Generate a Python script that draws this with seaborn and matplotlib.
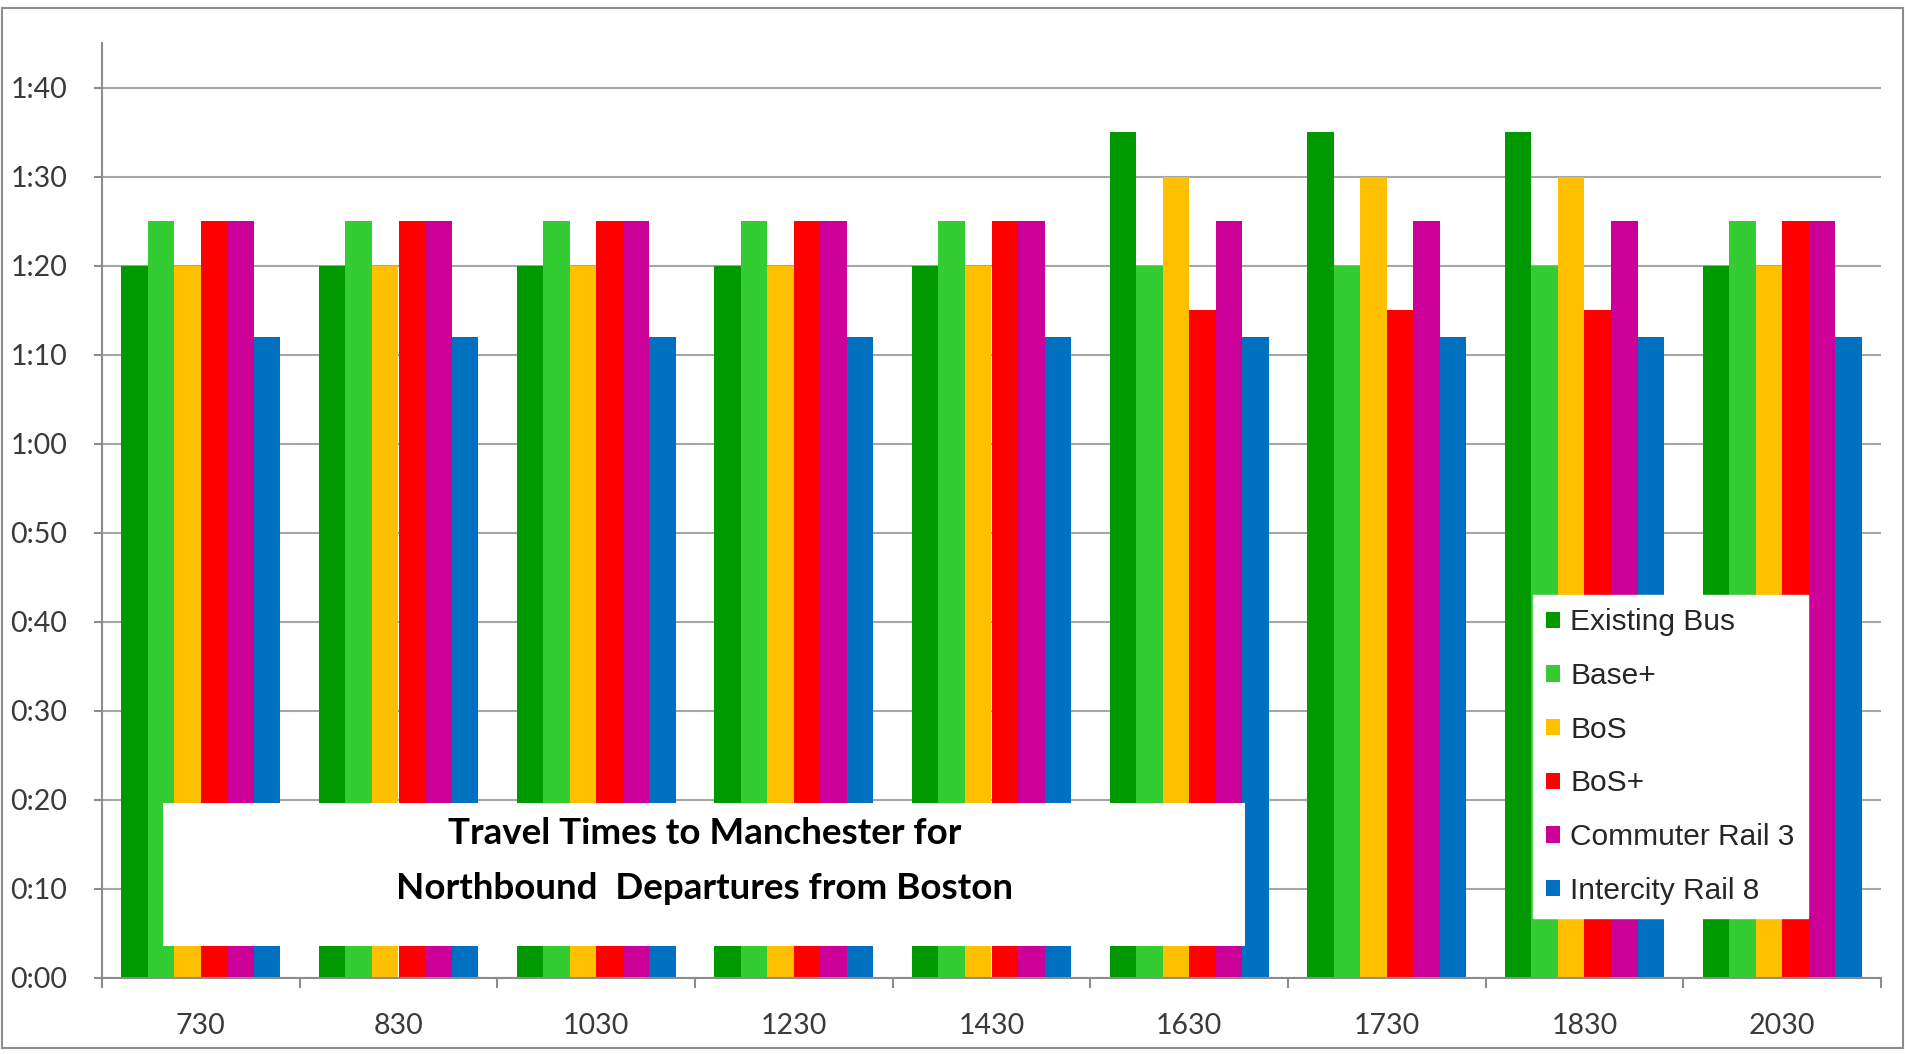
import matplotlib
matplotlib.use("Agg")
import matplotlib.pyplot as plt
from matplotlib.patches import Rectangle
from matplotlib.ticker import FuncFormatter, FixedLocator
import seaborn as sns
import pandas as pd

# Departure times (northbound from Boston)
departures = ["730", "830", "1030", "1230", "1430", "1630", "1730", "1830", "2030"]
modes = ["Existing Bus", "Base+", "BoS", "BoS+", "Commuter Rail 3", "Intercity Rail 8"]

# Travel times in minutes
existing_bus = [80, 80, 80, 80, 80, 95, 95, 95, 80]
base_plus = [85, 85, 85, 85, 85, 80, 80, 80, 85]
bos = [80, 80, 80, 80, 80, 90, 90, 90, 80]
bos_plus = [85, 85, 85, 85, 85, 75, 75, 75, 85]
commuter_rail_3 = [85, 85, 85, 85, 85, 85, 85, 85, 85]
intercity_rail_8 = [72, 72, 72, 72, 72, 72, 72, 72, 72]

colors = ["#009900", "#33cc33", "#ffc000", "#ff0000", "#cc0099", "#0070c0"]

series = [existing_bus, base_plus, bos, bos_plus, commuter_rail_3, intercity_rail_8]
rows = []
for mode, vals in zip(modes, series):
    for dep, v in zip(departures, vals):
        rows.append({"departure": dep, "mode": mode, "minutes": v})
df = pd.DataFrame(rows)

sns.set_theme(style="white")
plt.rcParams["font.family"] = ["Lato", "DejaVu Sans"]

fig = plt.figure(figsize=(19.05, 10.54), dpi=100)
ax = fig.add_axes([102 / 1905, 1 - 978 / 1054, (1881 - 102) / 1905, (978 - 43) / 1054])

sns.barplot(data=df, x="departure", y="minutes", hue="mode",
            order=departures, hue_order=modes, palette=colors,
            width=0.805, saturation=1, linewidth=0, legend=False, ax=ax,
            errorbar=None)

ax.set_xlim(-0.5, len(departures) - 0.5)
ax.set_ylim(0, 105)
ax.set_xlabel("")
ax.set_ylabel("")

# Grid and axes styling
ax.set_axisbelow(True)
ax.yaxis.set_major_locator(FixedLocator(range(0, 101, 10)))
ax.yaxis.set_major_formatter(FuncFormatter(lambda v, p: f"{int(v) // 60}:{int(v) % 60:02d}"))
ax.grid(axis="y", color="#a6a6a6", linewidth=1.5)
ax.grid(axis="x", visible=False)
for side in ["top", "right"]:
    ax.spines[side].set_visible(False)
for side in ["left", "bottom"]:
    ax.spines[side].set_color("#8c8c8c")
    ax.spines[side].set_linewidth(1.5)

ax.tick_params(axis="y", which="major", length=6, width=1.5, color="#8c8c8c",
               direction="out", left=True, pad=19, labelsize=20.5, labelcolor="#3a3a3a")
ax.set_xticks(range(len(departures)))
ax.set_xticklabels(departures)
ax.set_xticks([i - 0.5 for i in range(len(departures) + 1)], minor=True)
ax.tick_params(axis="x", which="major", length=0, pad=25, labelsize=20.5, labelcolor="#3a3a3a")
ax.tick_params(axis="x", which="minor", length=7, width=1.5, color="#8c8c8c",
               direction="out", bottom=True)

# Title panel inside the plot area
ax.add_patch(Rectangle((-0.19, 3.6), 5.47, 16.1, facecolor="white", edgecolor="none",
                       zorder=5))
title_kw = dict(ha="center", va="center", fontsize=26.5, fontweight="bold",
                color="black", zorder=6, family=["Lato", "DejaVu Sans"])
ax.text(2.55, 16.2, "Travel Times to Manchester for", **title_kw)
ax.text(2.55, 10.1, "Northbound  Departures from Boston", **title_kw)

# Legend
handles = [Rectangle((0, 0), 1, 1, facecolor=c, edgecolor="none") for c in colors]
leg = ax.legend(handles, modes, loc="upper left",
                bbox_to_anchor=(1533 / 1905, 1 - 595 / 1054),
                bbox_transform=fig.transFigure, borderaxespad=0,
                frameon=True, fancybox=False, framealpha=1,
                handlelength=0.45, handleheight=0.45, handletextpad=0.35,
                labelspacing=0.86, borderpad=0.45,
                prop={"family": ["Liberation Sans", "DejaVu Sans"], "size": 21.5})
leg.get_frame().set_edgecolor("white")
leg.get_frame().set_facecolor("white")
leg.set_zorder(7)
for t in leg.get_texts():
    t.set_color("#262626")

# Outer chart border
fig.patches.append(Rectangle((0.001, 0.006), 0.998, 0.9864, transform=fig.transFigure,
                             facecolor="none", edgecolor="#8c8c8c", linewidth=1.5))

fig.savefig("out.png", dpi=100, facecolor="white")
